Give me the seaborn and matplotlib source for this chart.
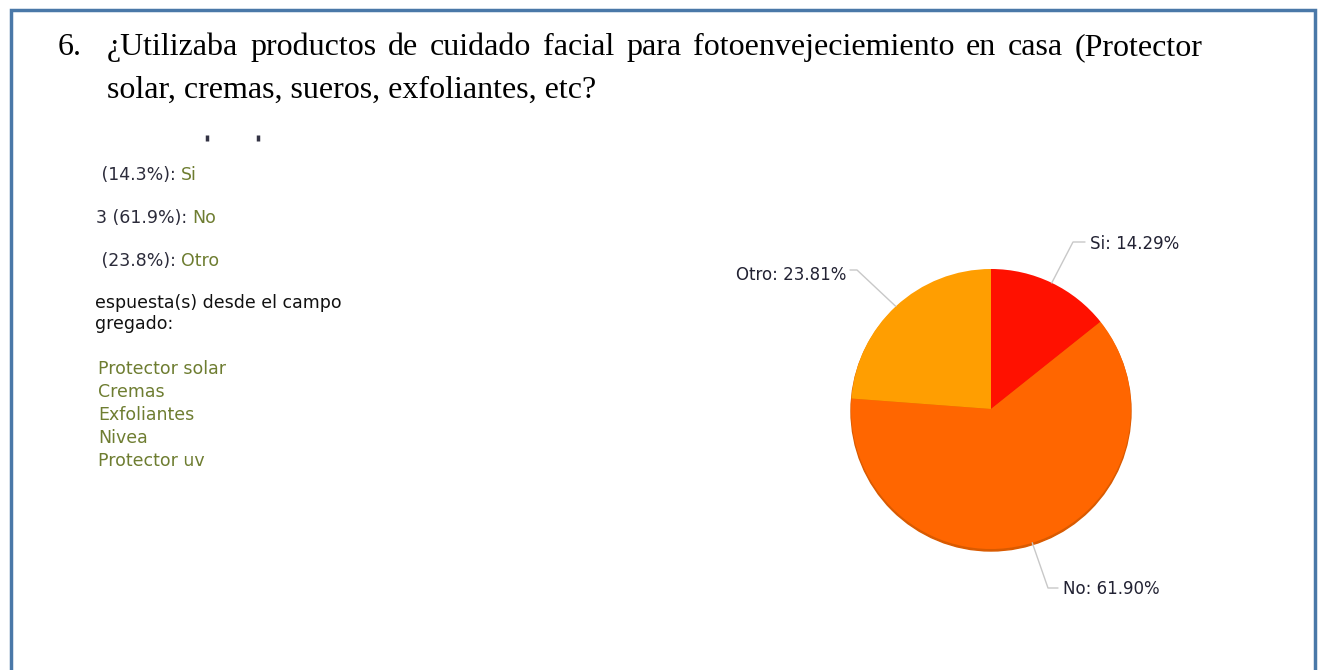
import numpy as np
import matplotlib
matplotlib.use("Agg")
import matplotlib.pyplot as plt
import seaborn as sns
from matplotlib.patches import Rectangle, Circle

# survey question and answers
question_lines = [
    "¿Utilizaba productos de cuidado facial para fotoenvejeciemiento en casa (Protector",
    "solar, cremas, sueros, exfoliantes, etc?",
]
categories = ["Si", "No", "Otro"]
counts_txt = [" (14.3%): ", "3 (61.9%): ", " (23.8%): "]
percents = [14.29, 61.90, 23.81]
colors = ["#ff1100", "#ff6600", "#ff9e01"]
other_header = ["espuesta(s) desde el campo", "gregado:"]
other_answers = ["Protector solar", "Cremas", "Exfoliantes", "Nivea", "Protector uv"]

sns.set_style("white")
plt.rcParams["font.family"] = ["DejaVu Sans"]

W, H = 1318, 670
fig = plt.figure(figsize=(W / 100, H / 100), dpi=100)
ax = fig.add_axes([0, 0, 1, 1])
ax.set_xlim(0, W)
ax.set_ylim(0, H)
ax.set_aspect("equal")
ax.axis("off")
renderer = fig.canvas.get_renderer()


def Y(y):
    return H - y


# frame
ax.add_patch(Rectangle((11, Y(700)), 1304, 690, fill=False,
                       edgecolor="#4a78a8", lw=2.5))

# question (first line justified)
serif = ["Liberation Serif", "DejaVu Serif"]
qfs = 23
ax.text(58, Y(55), "6.", family=serif, fontsize=qfs, va="baseline", color="black")
words = question_lines[0].split(" ")
objs = [ax.text(0, Y(55), w_, family=serif, fontsize=qfs, va="baseline", color="black")
        for w_ in words]
widths = [o.get_window_extent(renderer).width for o in objs]
gap = (1203 - 107 - sum(widths)) / (len(words) - 1)
x = 107
for o, wd in zip(objs, widths):
    o.set_x(x)
    x += wd + gap
ax.text(107, Y(98), question_lines[1], family=serif, fontsize=qfs, va="baseline",
        color="black")

# cut-off marks above the list
ax.plot([207, 258], [Y(138), Y(138)], ls="none", marker="|", ms=5, mew=2.5,
        color="#333344")

# left side answer list
dark = "#2b2b3a"
green = "#6e7d31"
fs = 12.5
for i, (c, cat) in enumerate(zip(counts_txt, categories)):
    y = Y(180 + i * 43)
    t = ax.text(96, y, c, color=dark, fontsize=fs, va="baseline")
    ax.annotate(cat, xy=(1, 0), xycoords=t, color=green, fontsize=fs, va="bottom")

for i, line in enumerate(other_header):
    ax.text(95, Y(308 + i * 21), line, color="#111111", fontsize=fs, va="baseline")
for i, line in enumerate(other_answers):
    ax.text(98, Y(374 + i * 23), line, color=green, fontsize=fs, va="baseline")

# pie
cx, cy, r = 991, Y(409), 140
ax.add_patch(Circle((cx, cy - 2), r, color="#d95a00", zorder=0.5))
wedges, _ = ax.pie(percents, colors=colors, startangle=90, counterclock=False,
                   center=(cx, cy), radius=r, frame=True,
                   wedgeprops=dict(linewidth=0))
ax.set_xlim(0, W)
ax.set_ylim(0, H)
ax.axis("off")

# labels with leader lines
lbl_fs = 12
label_pos = [(1090, Y(244), "left"), (1063, Y(589), "left"), (846, Y(275), "right")]
elbows = [(1073, Y(242), 1085), (1048, Y(588), 1058), (857, Y(270), 850)]
for w, cat, p, (lx, ly, ha), (ex, ey, hx) in zip(wedges, categories, percents, label_pos, elbows):
    mid = np.deg2rad((w.theta1 + w.theta2) / 2)
    px, py = cx + r * np.cos(mid), cy + r * np.sin(mid)
    ax.plot([px, ex, hx], [py, ey, ey], color="#c8c8c8", lw=1)
    ax.text(lx, ly, f"{cat}: {p:.2f}%", fontsize=lbl_fs, color="#222233",
            ha=ha, va="center")

fig.savefig("out.png", dpi=100)
